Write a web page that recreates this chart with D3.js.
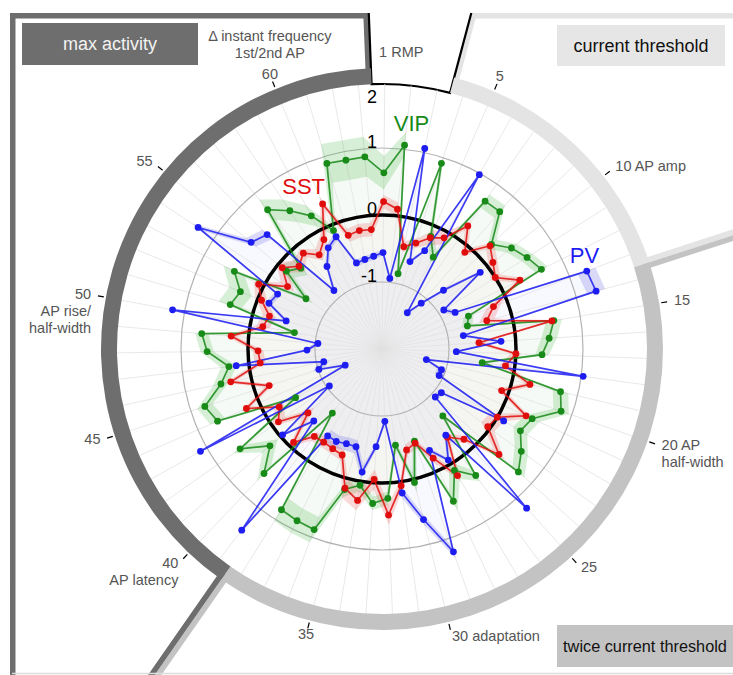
<!DOCTYPE html>
<html>
<head>
<meta charset="utf-8">
<script src="https://cdn.jsdelivr.net/npm/d3@7"></script>
<style>
  body { margin: 0; background: #fff; }
  svg { display: block; font-family: "Liberation Sans", Arial, sans-serif; }
</style>
</head>
<body>
<div id="chart"></div>
<script>
// 63 electrophysiology features, numbered clockwise from the top
var nFeatures = 63;

// feature groups (first / last feature of each block)
var groups = [
  {name: "current threshold", first: 4, last: 13},
  {name: "twice current threshold", first: 14, last: 38},
  {name: "max activity", first: 39, last: 63}
];
var openGroup = {first: 1, last: 3};

// tick labels around the ring (num = the feature number line)
var tickLabels = [
  {f: 1, lines: ["1 RMP"], num: 0},
  {f: 5, lines: ["5"], num: 0},
  {f: 10, lines: ["10 AP amp"], num: 0},
  {f: 15, lines: ["15"], num: 0},
  {f: 20, lines: ["20 AP", "half-width"], num: 0},
  {f: 25, lines: ["25"], num: 0},
  {f: 30, lines: ["30 adaptation"], num: 0},
  {f: 35, lines: ["35"], num: 0},
  {f: 40, lines: ["40", "AP latency"], num: 0},
  {f: 45, lines: ["45"], num: 0},
  {f: 50, lines: ["50", "AP rise/", "half-width"], num: 0},
  {f: 55, lines: ["55"], num: 0},
  {f: 60, lines: ["\u0394  instant frequency", "1st/2nd AP", "60"], num: 2}
];

var zTicks = [-1, 0, 1, 2];

// z-scored means per feature
var vipValues = [0.63, 1.06, -0.85, 0.91, -0.17, -0.43, 0.69, 0.70, 0.26, 0.45,
  0.56, 0.66, -0.62, -0.68, 0.60, 0.50, 0.39, -0.49, 0.74, 0.83,
  0.47, 0.40, 0.58, 0.74, -0.65, 0.35, 0.11, 0.51, -0.54, 0.05,
  -0.55, 0.23, 0.31, 0.06, 0.17, 0.88, 0.86, 0.83, -0.79, 0.56,
  0.21, 0.59, -0.52, 0.68, 0.78, 0.46, 0.30, 0.61, 0.70, -0.67,
  0.36, 0.28, 0.49, -0.64, -0.16, -0.29, 0.69, 0.48, 0.25, -0.09,
  0.89, 0.87, 0.88];
var sstValues = [0.20, 0.10, -0.44, -0.34, -0.19, -0.10, 0.24, -0.10, 0.23, 0.10,
  0.00, 0.30, -0.22, -0.38, 0.57, -0.55, 0.00, -0.14, 0.27, -0.11,
  0.37, 0.00, -0.04, 0.35, -0.18, -0.36, 0.20, -0.20, -0.51, -0.45,
  0.06, 0.48, -0.05, 0.29, 0.15, -0.31, -0.34, -0.36, -0.35, -0.08,
  -0.54, -0.11, -0.24, 0.21, -0.23, 0.31, -0.17, -0.15, 0.26, -0.19,
  -0.25, -0.06, 0.08, -0.31, -0.08, -0.25, -0.15, -0.31, -0.15, 0.34,
  -0.23, -0.20, -0.21];
var pvValues = [-0.56, -0.94, 1.06, -0.63, -0.40, 0.98, -1.34, -1.10, -0.73, -0.14,
  -0.91, -0.78, 1.27, 1.31, -0.77, -0.22, -0.89, 1.03, -1.32, -1.06,
  -1.06, 0.11, -0.90, -0.93, 1.21, -0.40, -0.07, -0.33, 1.21, 0.62,
  0.17, -0.92, -0.54, -0.14, -0.49, -0.49, -0.46, -0.47, 1.42, -0.52,
  -0.04, -1.04, 1.11, -1.40, -1.01, -1.11, 0.19, -0.88, -1.04, 1.18,
  -0.51, -0.18, -0.24, 1.29, 0.52, 0.42, -0.87, -0.52, -0.29, -0.19,
  -0.66, -0.64, -0.61];

// s.e.m. per feature (shaded bands)
var vipSem = [0.25, 0.20, 0.10, 0.12, 0.10, 0.10, 0.12, 0.12, 0.10, 0.10,
  0.10, 0.10, 0.08, 0.08, 0.12, 0.12, 0.10, 0.08, 0.12, 0.12,
  0.12, 0.12, 0.12, 0.12, 0.08, 0.10, 0.15, 0.15, 0.08, 0.15,
  0.08, 0.10, 0.10, 0.10, 0.12, 0.20, 0.20, 0.20, 0.10, 0.15,
  0.15, 0.12, 0.10, 0.12, 0.12, 0.12, 0.12, 0.10, 0.10, 0.08,
  0.18, 0.18, 0.18, 0.12, 0.15, 0.15, 0.20, 0.20, 0.18, 0.10,
  0.30, 0.30, 0.30];
var sstSem = [0.10, 0.10, 0.08, 0.08, 0.12, 0.12, 0.08, 0.08, 0.08, 0.08,
  0.08, 0.08, 0.12, 0.12, 0.08, 0.08, 0.08, 0.08, 0.08, 0.08,
  0.08, 0.12, 0.12, 0.10, 0.08, 0.08, 0.10, 0.10, 0.08, 0.08,
  0.08, 0.15, 0.15, 0.15, 0.15, 0.08, 0.08, 0.08, 0.08, 0.10,
  0.12, 0.12, 0.08, 0.08, 0.08, 0.08, 0.08, 0.08, 0.08, 0.10,
  0.10, 0.10, 0.08, 0.12, 0.12, 0.12, 0.08, 0.10, 0.10, 0.10,
  0.10, 0.10, 0.10];
var pvSem = [0.04, 0.04, 0.04, 0.04, 0.04, 0.04, 0.04, 0.05, 0.08, 0.08,
  0.06, 0.06, 0.14, 0.14, 0.05, 0.05, 0.05, 0.05, 0.05, 0.07,
  0.07, 0.07, 0.05, 0.05, 0.05, 0.05, 0.05, 0.05, 0.10, 0.10,
  0.10, 0.05, 0.05, 0.10, 0.10, 0.10, 0.10, 0.10, 0.05, 0.05,
  0.05, 0.05, 0.05, 0.09, 0.09, 0.09, 0.05, 0.05, 0.05, 0.05,
  0.05, 0.05, 0.05, 0.10, 0.10, 0.10, 0.05, 0.05, 0.05, 0.05,
  0.05, 0.05, 0.05];

//layout
var W = 733, H = 675;
var cx = 382, cy = 349;
var ringIn = 265, ringOut = 281;
var groupColors = ["#e4e4e4", "#c3c3c3", "#6e6e6e"];

var series = [
  {name: "VIP", values: vipValues, sem: vipSem, color: "#178a17", band: "#30b030", fillOp: 0.04, lab: {f: 2.2, z: 1.40}},
  {name: "SST", values: sstValues, sem: sstSem, color: "#e00d0d", band: "#e43a3a", fillOp: 0.018, lab: {f: 59.4, z: 0.70}},
  {name: "PV", values: pvValues, sem: pvSem, color: "#1d1df2", band: "#4646dd", fillOp: 0.03, lab: {f: 12.3, z: 1.33}}
];

var deg = Math.PI / 180;
var angle = d3.scaleLinear()
  .domain([1, nFeatures + 1])
  .range([0.6 * deg, 0.6 * deg + 2 * Math.PI]);
var r = d3.scaleLinear().domain([-2, 2]).range([0, 268]);

var svg = d3.select("#chart").append("svg")
  .attr("width", W)
  .attr("height", H);
var defs = svg.append("defs");
var g = svg.append("g").attr("transform", "translate(" + cx + "," + cy + ")");

//frames around each block
var frameRect = {x0: 10 - cx, y0: 13 - cy, x1: 745 - cx, y1: 690 - cy};

function rayHit(a) {
  var dx = Math.sin(a), dy = -Math.cos(a), ts = [];
  if (dx > 1e-9) ts.push(frameRect.x1 / dx);
  if (dx < -1e-9) ts.push(frameRect.x0 / dx);
  if (dy > 1e-9) ts.push(frameRect.y1 / dy);
  if (dy < -1e-9) ts.push(frameRect.y0 / dy);
  var t = d3.min(ts);
  return [t * dx, t * dy];
}
function norm(a) {
  a = a % (2 * Math.PI);
  return a < 0 ? a + 2 * Math.PI : a;
}
function framePoints(a0, a1, rArc) {
  var span = norm(a1 - a0);
  var pts = [d3.pointRadial(a0, rArc), rayHit(a0)];
  var corners = [[frameRect.x1, frameRect.y0], [frameRect.x1, frameRect.y1],
                 [frameRect.x0, frameRect.y1], [frameRect.x0, frameRect.y0]]
    .map(function(c) { return {c: c, rel: norm(Math.atan2(c[0], -c[1]) - a0)}; })
    .filter(function(o) { return o.rel < span; })
    .sort(function(a, b) { return a.rel - b.rel; });
  corners.forEach(function(o) { pts.push(o.c); });
  pts.push(rayHit(a1));
  d3.range(0, 61).forEach(function(k) {
    pts.push(d3.pointRadial(a1 - span * k / 60, rArc));
  });
  return pts;
}

var frameLine = d3.line().curve(d3.curveLinearClosed);
groups.forEach(function(gr, i) {
  var pts = framePoints(angle(gr.first - 0.5), angle(gr.last + 0.5), ringIn + 9);
  defs.append("clipPath").attr("id", "clip" + i)
    .append("path").attr("d", frameLine(pts));
  g.append("path")
    .attr("d", frameLine(pts))
    .attr("fill", "none")
    .attr("stroke", groupColors[i])
    .attr("stroke-width", 11)
    .attr("clip-path", "url(#clip" + i + ")");
});

// faint bottom edge
svg.append("line")
  .attr("x1", 12).attr("x2", W)
  .attr("y1", 673.5).attr("y2", 673.5)
  .attr("stroke", "#dcdcdc")
  .attr("stroke-width", 1.5);

//open wedge for the first features
(function() {
  var a0 = angle(openGroup.first - 0.5), a1 = angle(openGroup.last + 0.5);
  var p = d3.path();
  var s = rayHit(a0), e = rayHit(a1), q = d3.pointRadial(a0, ringIn);
  p.moveTo(s[0], s[1]);
  p.lineTo(q[0], q[1]);
  p.arc(0, 0, ringIn, a0 - Math.PI / 2, a1 - Math.PI / 2, false);
  p.lineTo(e[0], e[1]);
  g.append("path")
    .attr("d", p.toString())
    .attr("fill", "none")
    .attr("stroke", "#000")
    .attr("stroke-width", 2.2);
})();

//series fills
var radialLine = d3.lineRadial()
  .angle(function(d) { return angle(d.f); })
  .radius(function(d) { return r(d.v); })
  .curve(d3.curveLinearClosed);

series.forEach(function(s) {
  s.pts = s.values.map(function(v, i) { return {f: i + 1, v: v, e: s.sem[i]}; });
});

series.forEach(function(s) {
  g.append("path")
    .datum(s.pts)
    .attr("d", radialLine)
    .attr("fill", s.color)
    .attr("fill-opacity", s.fillOp)
    .attr("stroke", "none");
});

//spokes
g.selectAll(".spoke")
  .data(d3.range(1, nFeatures + 1))
  .enter().append("line")
    .attr("class", "spoke")
    .attr("x1", 0).attr("y1", 0)
    .attr("x2", function(f) { return d3.pointRadial(angle(f), ringIn)[0]; })
    .attr("y2", function(f) { return d3.pointRadial(angle(f), ringIn)[1]; })
    .attr("stroke", "#e2e2e2")
    .attr("stroke-width", 0.8);

//grid circles
g.selectAll(".grid")
  .data([-1, 1])
  .enter().append("circle")
    .attr("r", function(d) { return r(d); })
    .attr("fill", "none")
    .attr("stroke", "#b3b3b3")
    .attr("stroke-width", 1.2);

//sem bands, one quad per segment
series.forEach(function(s) {
  var n = s.pts.length;
  var quads = s.pts.map(function(d, i) {
    var nx = s.pts[(i + 1) % n];
    var a0 = angle(d.f), a1 = angle(d.f + 1);
    return [d3.pointRadial(a0, r(d.v - d.e)), d3.pointRadial(a0, r(d.v + d.e)),
            d3.pointRadial(a1, r(nx.v + nx.e)), d3.pointRadial(a1, r(nx.v - nx.e))];
  });
  g.append("g").selectAll("path")
    .data(quads)
    .enter().append("path")
      .attr("d", frameLine)
      .attr("fill", s.band)
      .attr("fill-opacity", 0.2)
      .attr("stroke", "none");
});

//ring sectors
var ringArc = d3.arc().innerRadius(ringIn).outerRadius(ringOut);
groups.forEach(function(gr, i) {
  g.append("path")
    .attr("d", ringArc({startAngle: angle(gr.first - 0.5), endAngle: angle(gr.last + 0.5)}))
    .attr("fill", groupColors[i]);
});

//ticks
g.selectAll(".tick")
  .data(tickLabels.filter(function(t) { return t.f > 1; }))
  .enter().append("line")
    .attr("x1", function(t) { return d3.pointRadial(angle(t.f), ringOut + 2)[0]; })
    .attr("y1", function(t) { return d3.pointRadial(angle(t.f), ringOut + 2)[1]; })
    .attr("x2", function(t) { return d3.pointRadial(angle(t.f), ringOut + 8)[0]; })
    .attr("y2", function(t) { return d3.pointRadial(angle(t.f), ringOut + 8)[1]; })
    .attr("stroke", "#000")
    .attr("stroke-width", 1.2);

//zero circle
g.append("circle")
  .attr("r", r(0))
  .attr("fill", "none")
  .attr("stroke", "#000")
  .attr("stroke-width", 3.5);

//lines and points
series.forEach(function(s) {
  g.append("path")
    .datum(s.pts)
    .attr("d", radialLine)
    .attr("fill", "none")
    .attr("stroke", s.color)
    .attr("stroke-width", 1.7)
    .attr("stroke-opacity", 0.85);
});
series.forEach(function(s) {
  g.append("g").selectAll("circle")
    .data(s.pts)
    .enter().append("circle")
      .attr("cx", function(d) { return d3.pointRadial(angle(d.f), r(d.v))[0]; })
      .attr("cy", function(d) { return d3.pointRadial(angle(d.f), r(d.v))[1]; })
      .attr("r", 3.4)
      .attr("fill", s.color);
});

//series labels
series.forEach(function(s) {
  var p = d3.pointRadial(angle(s.lab.f), r(s.lab.z));
  g.append("text")
    .attr("x", p[0])
    .attr("y", p[1] + 8)
    .attr("text-anchor", "middle")
    .attr("font-size", 22)
    .attr("fill", s.color)
    .text(s.name);
});

//z labels
g.selectAll(".zlab")
  .data(zTicks)
  .enter().append("text")
    .attr("x", -5)
    .attr("y", function(z) { return -Math.min(r(z) + 6, ringIn - 13) + 6; })
    .attr("text-anchor", "end")
    .attr("font-size", 18)
    .attr("fill", "#000")
    .text(function(z) { return z; });

//tick labels
var lineH = 17;
tickLabels.forEach(function(t) {
  var a = angle(t.f);
  var p = d3.pointRadial(a, 296);
  var s = Math.sin(a);
  var anchor = s > 0.5 ? "start" : s < -0.5 ? "end" : "middle";
  var xoff = 0;
  if (t.f === 1) { anchor = "start"; xoff = -6; }
  if (t.f === 30) anchor = "start";
  t.lines.forEach(function(line, k) {
    var dy = (k - t.num) * lineH + (k < t.num ? -4 : 0);
    g.append("text")
      .attr("x", p[0] + xoff)
      .attr("y", p[1] + 4 + dy)
      .attr("text-anchor", anchor)
      .attr("font-size", 14.5)
      .attr("fill", "#555")
      .text(line);
  });
});

//group title boxes
var boxes = [
  {label: "max activity", x: 22, y: 23, w: 176, h: 42, fill: "#6e6e6e", color: "#f2f2f2", size: 18},
  {label: "current threshold", x: 557, y: 25, w: 168, h: 41, fill: "#e6e6e6", color: "#111", size: 18},
  {label: "twice current threshold", x: 557, y: 625, w: 176, h: 42, fill: "#c3c3c3", color: "#111", size: 16.3}
];
boxes.forEach(function(b) {
  svg.append("rect")
    .attr("x", b.x).attr("y", b.y)
    .attr("width", b.w).attr("height", b.h)
    .attr("fill", b.fill);
  svg.append("text")
    .attr("x", b.x + b.w / 2)
    .attr("y", b.y + b.h / 2 + 6)
    .attr("text-anchor", "middle")
    .attr("font-size", b.size)
    .attr("fill", b.color)
    .text(b.label);
});
</script>
</body>
</html>
